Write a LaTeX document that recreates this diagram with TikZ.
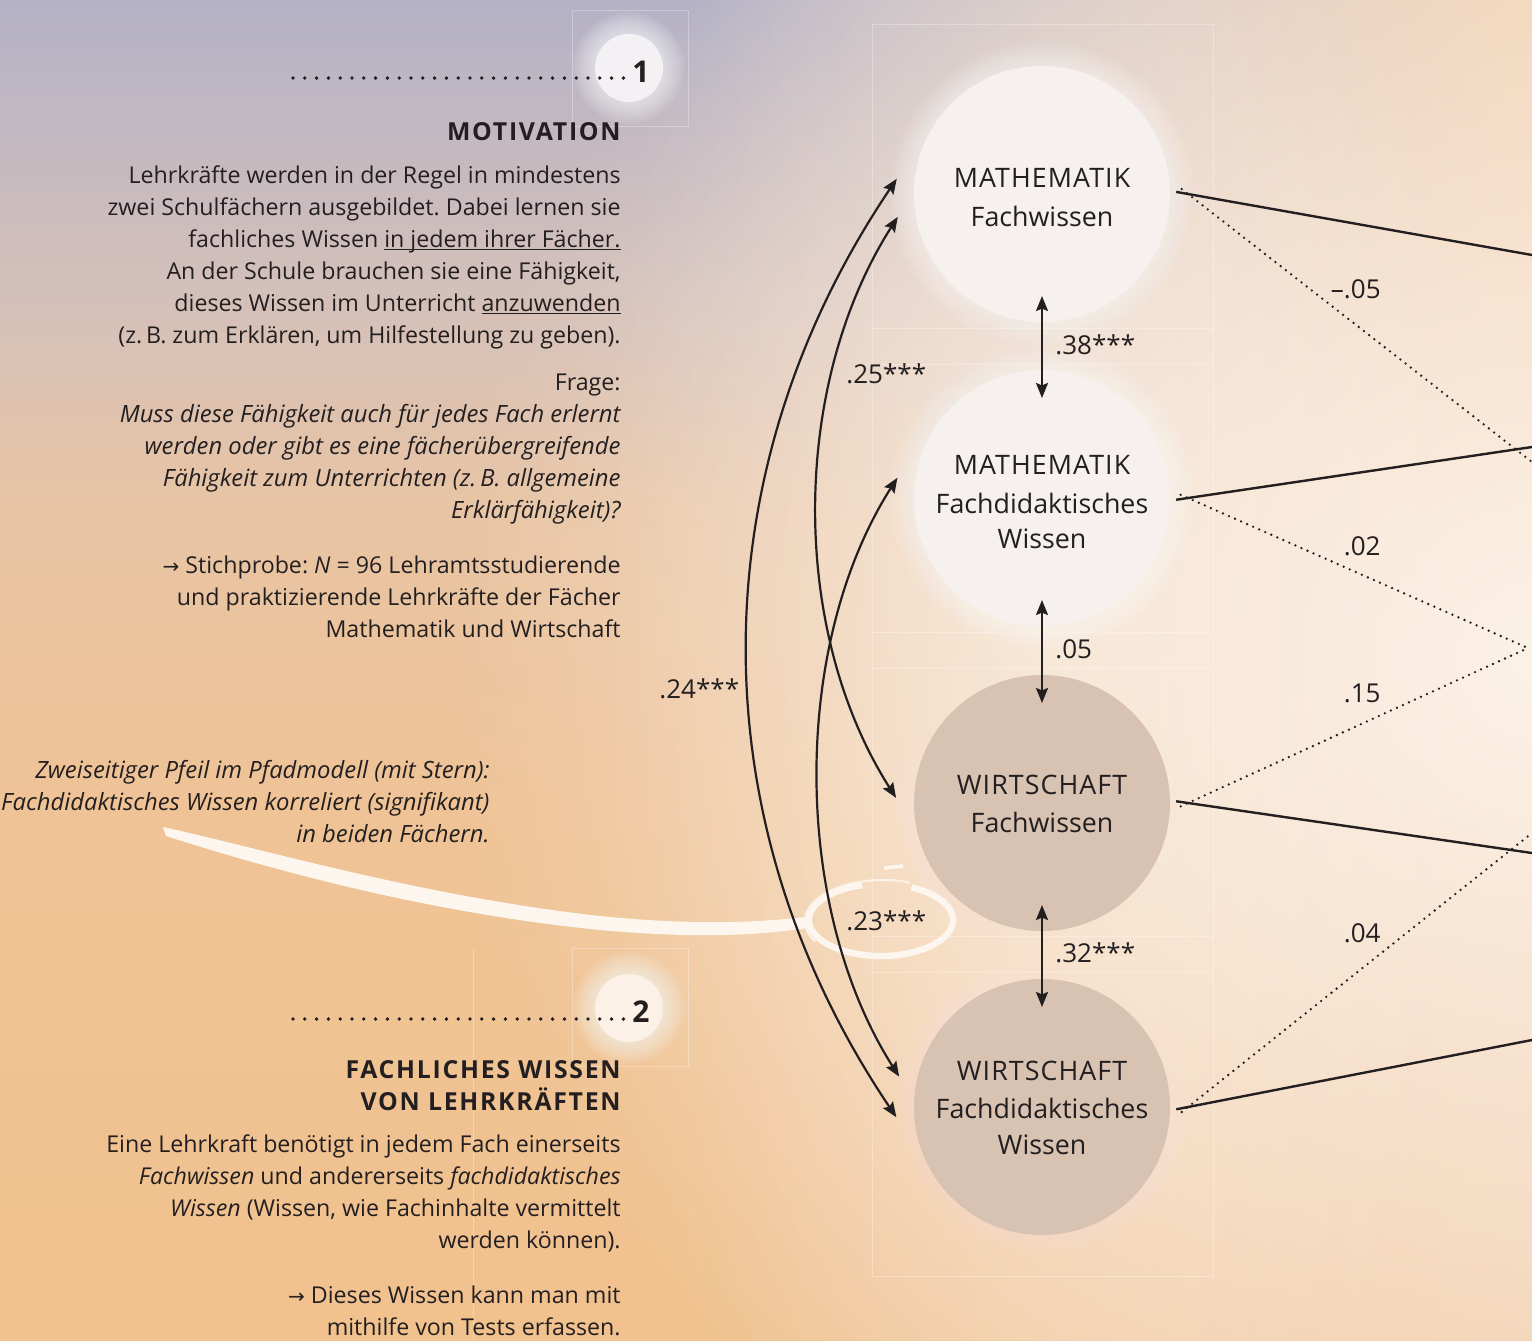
\documentclass[tikz,border=0pt]{standalone}
\usepackage{fontspec}
\setmainfont{Open Sans}
\newfontfamily\arrowfont{DejaVu Sans}
\usetikzlibrary{arrows.meta,fadings}
\tikzfading[name=myfade, inner color=transparent!0, outer color=transparent!100]
\definecolor{ink}{RGB}{35,31,32}
\definecolor{bgtop}{RGB}{180,178,198}
\definecolor{bgup}{RGB}{212,192,186}
\definecolor{bgmid}{RGB}{232,196,164}
\definecolor{bglow}{RGB}{239,195,150}
\definecolor{bgbot}{RGB}{241,194,142}
\definecolor{bgwarm}{RGB}{240,203,168}
\definecolor{bgcream}{RGB}{252,242,232}
\definecolor{mathc}{RGB}{246,241,238}
\definecolor{wirtc}{RGB}{216,194,178}
\definecolor{badgea}{RGB}{243,241,244}
\definecolor{badgeb}{RGB}{251,241,231}
\definecolor{brushc}{RGB}{253,246,238}
\pgfdeclareverticalshading{bgshade}{100bp}{color(0bp)=(bgbot); color(25bp)=(bgbot); color(45bp)=(bglow); color(56bp)=(bgmid); color(64bp)=(bgup); color(75bp)=(bgtop); color(100bp)=(bgtop)}
\newsavebox\ulbox
\newcommand{\myul}[1]{\sbox\ulbox{#1}\rlap{\rule[-1.6pt]{\wd\ulbox}{0.6pt}}\usebox\ulbox}
\newcommand{\arr}{{\arrowfont\fontsize{10}{10}\selectfont →}}
\frenchspacing
\tikzset{
  body/.style={anchor=base east, inner sep=0pt, text=ink, font=\fontsize{11.6}{14}\selectfont},
  bodyit/.style={body, font=\fontsize{11.9}{14}\selectfont\itshape},
  head/.style={anchor=base east, inner sep=0pt, text=ink, font=\fontsize{12.4}{14}\selectfont\bfseries\addfontfeatures{LetterSpace=7}},
  circ/.style={circle, minimum size=128pt, inner sep=0pt, outer sep=9pt},
  clab/.style={anchor=base, inner sep=0pt, text=ink, font=\fontsize{13.4}{16}\selectfont},
  ccap/.style={clab, font=\fontsize{13.4}{16}\selectfont\addfontfeatures{LetterSpace=4}},
  num/.style={inner sep=0pt, text=ink, font=\fontsize{13}{16}\selectfont},
  conn/.style={draw=ink, line width=1.1pt},
  dblarrow/.style={{Stealth[length=7.5pt,width=6pt,inset=1.2pt]}-{Stealth[length=7.5pt,width=6pt,inset=1.2pt]}},
  solidpath/.style={draw=ink, line width=1.2pt},
  dotpath/.style={draw=ink, line width=1.3pt, line cap=round, dash pattern=on 0pt off 3.3pt},
  leader/.style={draw=ink, line width=1.9pt, line cap=round, dash pattern=on 0pt off 5.9pt},
  gridline/.style={draw=white, opacity=0.3, line width=0.5pt},
  badge/.style={circle, minimum size=34pt, inner sep=0pt},
  badgenum/.style={anchor=base, inner sep=0pt, text=ink, font=\fontsize{15}{16}\selectfont\bfseries},
}
\begin{document}
\begin{tikzpicture}[x=0.5pt,y=-0.5pt]
\useasboundingbox (0,0) rectangle (1532,1340);
\begin{scope}
\clip (0,0) rectangle (1532,1340);
% background
\shade[shading=bgshade] (0,0) rectangle (1532,1340);
\fill[bgwarm, path fading=west] (700,0) rectangle (1532,1340);
\fill[bgcream, path fading=myfade] (1540,660) ellipse (1100 and 1050);
\fill[white, path fading=myfade, opacity=0.3] (1040,640) ellipse (450 and 1100);
% faint layout lines
\draw[gridline] (872,24) rectangle (1213,1276);
\foreach \yy in {328,364,632,668,936,972} \draw[gridline] (872,\yy) -- (1213,\yy);
\draw[gridline] (572,10) rectangle (688,126);
\draw[gridline] (572,948) rectangle (688,1066);
\draw[gridline] (473,948) -- (473,1340);
% glows
\foreach \i in {1,...,10} {
  \fill[white, opacity=0.06] (1042,194) circle (128+2.4*\i);
  \fill[white, opacity=0.06] (1042,498) circle (128+2.4*\i);
  \fill[white, opacity=0.02] (1042,803) circle (128+2*\i);
  \fill[white, opacity=0.02] (1042,1107) circle (128+2*\i);
  \fill[white, opacity=0.07] (629,68) circle (34+2.2*\i);
  \fill[white, opacity=0.07] (629,1008) circle (34+2.2*\i);
}
% badges
\node[badge, fill=badgea] (b1) at (629,68) {};
\node[badge, fill=badgeb] (b2) at (629,1008) {};
\draw[leader] (293,78) -- (625,78);
\draw[leader] (293,1019) -- (625,1019);
\node[badgenum] (n1) at (641,82) {1};
\node[badgenum] (n2) at (641,1022) {2};
% section 1 text
\node[head] (h1) at (621,140) {MOTIVATION};
\node[body] (t1) at (621,183) {Lehrkräfte werden in der Regel in mindestens};
\node[body] (t2) at (621,215) {zwei Schulfächern ausgebildet. Dabei lernen sie};
\node[body] (t3) at (621,247) {fachliches Wissen \myul{in jedem ihrer Fächer.}};
\node[body] (t4) at (621,279) {An der Schule brauchen sie eine Fähigkeit,};
\node[body] (t5) at (621,311) {dieses Wissen im Unterricht \myul{anzuwenden}};
\node[body] (t6) at (621,343) {(z.\,B. zum Erklären, um Hilfestellung zu geben).};
\node[body] (t7) at (621,390) {Frage:};
\node[bodyit] (t8) at (621,422) {Muss diese Fähigkeit auch für jedes Fach erlernt};
\node[bodyit] (t9) at (621,454) {werden oder gibt es eine fächerübergreifende};
\node[bodyit] (t10) at (621,486) {Fähigkeit zum Unterrichten (z.\,B. allgemeine};
\node[bodyit] (t11) at (621,518) {Erklärfähigkeit)?};
\node[body] (t12) at (621,573) {\arr\ Stichprobe: \textit{N} = 96 Lehramtsstudierende};
\node[body] (t13) at (621,605) {und praktizierende Lehrkräfte der Fächer};
\node[body] (t14) at (621,637) {Mathematik und Wirtschaft};
% annotation
\node[bodyit] (a1) at (490,778) {Zweiseitiger Pfeil im Pfadmodell (mit Stern):};
\node[bodyit] (a2) at (490,810) {Fachdidaktisches Wissen korreliert (signifikant)};
\node[bodyit] (a3) at (490,842) {in beiden Fächern.};
% section 2 text
\node[head] (h2) at (621,1078) {FACHLICHES WISSEN};
\node[head] (h3) at (621,1110) {VON LEHRKRÄFTEN};
\node[body] (u1) at (621,1152) {Eine Lehrkraft benötigt in jedem Fach einerseits};
\node[body] (u2) at (621,1184) {\textit{Fachwissen} und andererseits \textit{fachdidaktisches}};
\node[body] (u3) at (621,1216) {\textit{Wissen} (Wissen, wie Fachinhalte vermittelt};
\node[body] (u4) at (621,1248) {werden können).};
\node[body] (u5) at (621,1303) {\arr\ Dieses Wissen kann man mit};
\node[body] (u6) at (621,1335) {mithilfe von Tests erfassen.};
% brush stroke
\fill[brushc] (163,827) .. controls (260,848) and (420,896) .. (600,916) .. controls (700,926) and (760,922) .. (806,917) -- (807,928) .. controls (760,935) and (700,939) .. (600,930) .. controls (420,912) and (260,866) .. (166,836) -- cycle;
\draw[brushc, line width=3.2pt] (881,920) ++(-65:72 and 36) arc[start angle=-65, end angle=255, x radius=72, y radius=36];
\draw[brushc, line width=1.1pt, opacity=0.85] (883,921) ++(150:78 and 41) arc[start angle=150, end angle=290, x radius=78, y radius=41];
\draw[brushc, line width=1.8pt] (884,868) -- (903,866);
% circles
\node[circ, fill=mathc] (m1) at (1042,194) {};
\node[circ, fill=mathc] (m2) at (1042,498) {};
\node[circ, fill=wirtc] (w1) at (1042,803) {};
\node[circ, fill=wirtc] (w2) at (1042,1107) {};
\node[ccap] (m1a) at (1042,187) {MATHEMATIK};
\node[clab] (m1b) at (1042,226) {Fachwissen};
\node[ccap] (m2a) at (1042,474) {MATHEMATIK};
\node[clab] (m2b) at (1042,513) {Fachdidaktisches};
\node[clab] (m2c) at (1042,548) {Wissen};
\node[ccap] (w1a) at (1042,794) {WIRTSCHAFT};
\node[clab] (w1b) at (1042,832) {Fachwissen};
\node[ccap] (w2a) at (1042,1080) {WIRTSCHAFT};
\node[clab] (w2b) at (1042,1118) {Fachdidaktisches};
\node[clab] (w2c) at (1042,1154) {Wissen};
% vertical double arrows
\draw[conn, dblarrow, shorten <=-22pt, shorten >=-23pt] (m1.south) -- (m2.north);
\draw[conn, dblarrow, shorten <=-22pt, shorten >=-23pt] (m2.south) -- (w1.north);
\draw[conn, dblarrow, shorten <=-22pt, shorten >=-23pt] (w1.south) -- (w2.north);
% curved correlation arrows
\draw[conn, dblarrow] (m1.174) .. controls +(-199,295) and +(-199,-295) .. (w2.184);
\draw[conn, dblarrow] (m1.189) .. controls +(-107,168) and +(-107,-168) .. (w1.178);
\draw[conn, dblarrow] (m2.172) .. controls +(-107,168) and +(-107,-168) .. (w2.168);
% right side paths
\coordinate (r1) at (1532,255);
\coordinate (r2) at (1532,447);
\coordinate (r3) at (1532,853);
\coordinate (r4) at (1532,1040);
\coordinate (q1) at (1532,462);
\coordinate (q2) at (1528,648);
\coordinate (q4) at (1532,833);
\draw[solidpath, shorten <=-6pt] (m1.east) -- (r1);
\draw[solidpath, shorten <=-6pt] (m2.east) -- (r2);
\draw[solidpath, shorten <=-6pt] (w1.east) -- (r3);
\draw[solidpath, shorten <=-6pt] (w2.east) -- (r4);
\draw[dotpath, shorten <=-4pt] (m1.east) -- (q1);
\draw[dotpath, shorten <=-4pt] (m2.east) -- (q2);
\draw[dotpath, shorten <=-4pt] (w1.east) -- (q2);
\draw[dotpath, shorten <=-4pt] (w2.east) -- (q4);
% numbers
\node[num, anchor=base west] (c38) at (1055,354) {.38***};
\node[num, anchor=base west] (c05) at (1055,658) {.05};
\node[num, anchor=base west] (c32) at (1055,962) {.32***};
\node[num, anchor=base west] (c25) at (846,383) {.25***};
\node[num, anchor=base west] (c24) at (659,698) {.24***};
\node[num, anchor=base west] (c23) at (846,930) {.23***};
\node[num, anchor=base east] (d05) at (1381,298) {–.05};
\node[num, anchor=base east] (d02) at (1381,555) {.02};
\node[num, anchor=base east] (d15) at (1381,702) {.15};
\node[num, anchor=base east] (d04) at (1381,942) {.04};
\end{scope}
\end{tikzpicture}
\end{document}
